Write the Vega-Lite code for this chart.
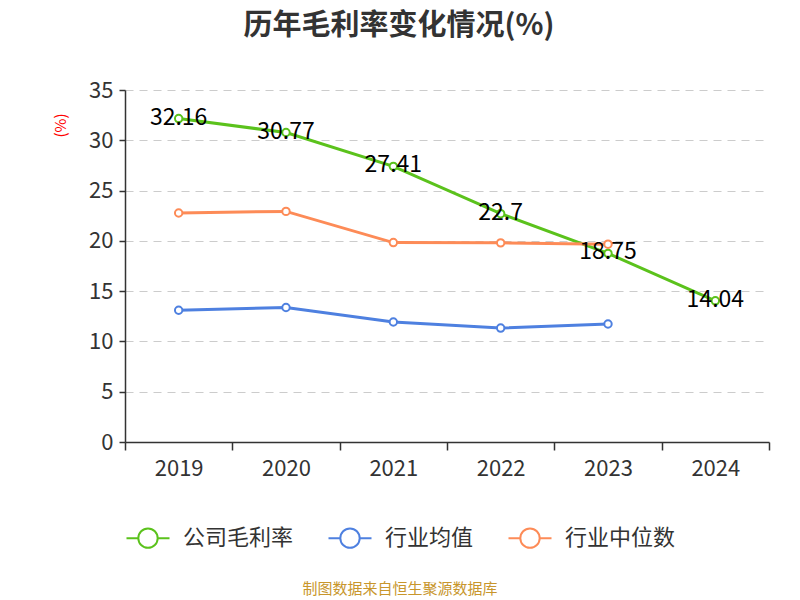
{
  "$schema": "https://vega.github.io/schema/vega-lite/v6.json",
  "width": 800,
  "height": 600,
  "autosize": {"type": "fit", "contains": "padding"},
  "padding": {"left": 53, "right": 30, "top": 12, "bottom": 3},
  "background": "white",
  "config": {
    "font": "Noto Sans CJK SC",
    "view": {"stroke": null}
  },
  "title": {
    "text": "历年毛利率变化情况(%)",
    "fontSize": 29,
    "fontWeight": "bold",
    "color": "#333333",
    "anchor": "middle",
    "dx": -48,
    "offset": 38
  },
  "data": {
    "values": [
      {"year": "2019", "series": "公司毛利率", "value": 32.16},
      {"year": "2020", "series": "公司毛利率", "value": 30.77},
      {"year": "2021", "series": "公司毛利率", "value": 27.41},
      {"year": "2022", "series": "公司毛利率", "value": 22.7},
      {"year": "2023", "series": "公司毛利率", "value": 18.75},
      {"year": "2024", "series": "公司毛利率", "value": 14.04},
      {"year": "2019", "series": "行业均值", "value": 13.1},
      {"year": "2020", "series": "行业均值", "value": 13.37},
      {"year": "2021", "series": "行业均值", "value": 11.93},
      {"year": "2022", "series": "行业均值", "value": 11.33},
      {"year": "2023", "series": "行业均值", "value": 11.73},
      {"year": "2019", "series": "行业中位数", "value": 22.77},
      {"year": "2020", "series": "行业中位数", "value": 22.93},
      {"year": "2021", "series": "行业中位数", "value": 19.83},
      {"year": "2022", "series": "行业中位数", "value": 19.8},
      {"year": "2023", "series": "行业中位数", "value": 19.67}
    ]
  },
  "encoding": {
    "x": {
      "field": "year",
      "type": "ordinal",
      "scale": {"type": "band", "paddingInner": 0, "paddingOuter": 0},
      "axis": {
        "title": null,
        "labelAngle": 0,
        "labelFontSize": 22,
        "labelColor": "#333333",
        "labelPadding": 8,
        "domainColor": "#333333",
        "domainWidth": 1.5,
        "tickColor": "#333333",
        "tickSize": 8,
        "tickWidth": 1.5,
        "tickBand": "extent",
        "grid": false
      }
    },
    "y": {
      "field": "value",
      "type": "quantitative",
      "scale": {"domain": [0, 35]},
      "axis": {
        "title": "(%)",
        "titleColor": "red",
        "titleFontSize": 15,
        "titleFontWeight": "normal",
        "titleX": -57,
        "titleY": 35,
        "titleAngle": -90,
        "values": [0, 5, 10, 15, 20, 25, 30, 35],
        "labelFontSize": 22,
        "labelColor": "#333333",
        "labelPadding": 6,
        "domainColor": "#333333",
        "domainWidth": 1.5,
        "tickColor": "#333333",
        "tickSize": 6,
        "tickWidth": 1.5,
        "grid": true,
        "gridColor": "#cccccc",
        "gridDash": [8, 6],
        "gridWidth": 1.2
      }
    },
    "color": {
      "field": "series",
      "type": "nominal",
      "scale": {
        "domain": ["公司毛利率", "行业均值", "行业中位数"],
        "range": ["#5bc21c", "#4e80e0", "#fd8b57"]
      },
      "legend": {
        "title": "制图数据来自恒生聚源数据库",
        "titleOrient": "bottom",
        "titleAnchor": "middle",
        "titleColor": "#c8962c",
        "titleFontSize": 15,
        "titleFontWeight": "normal",
        "titleLimit": 600,
        "titlePadding": 30,
        "orient": "bottom",
        "direction": "horizontal",
        "offset": 36,
        "labelFontSize": 22,
        "labelColor": "#333333",
        "labelOffset": 12,
        "columnPadding": 30,
        "symbolType": "M-1,0H-0.45M0.45,0H1M-0.45,0A0.45,0.45,0,1,0,0.45,0A0.45,0.45,0,1,0,-0.45,0",
        "symbolSize": 1850,
        "symbolStrokeWidth": 2,
        "symbolFillColor": "white"
      }
    }
  },
  "layer": [
    {
      "mark": {"type": "line", "strokeWidth": 3}
    },
    {
      "mark": {"type": "point", "filled": false, "fill": "white", "size": 55, "strokeWidth": 2, "opacity": 1}
    },
    {
      "transform": [{"filter": "datum.series == '公司毛利率'"}],
      "mark": {"type": "text", "fontSize": 23, "align": "center", "baseline": "middle", "dy": -1},
      "encoding": {
        "text": {"field": "value", "type": "quantitative"},
        "color": {"value": "black"}
      }
    }
  ]
}
